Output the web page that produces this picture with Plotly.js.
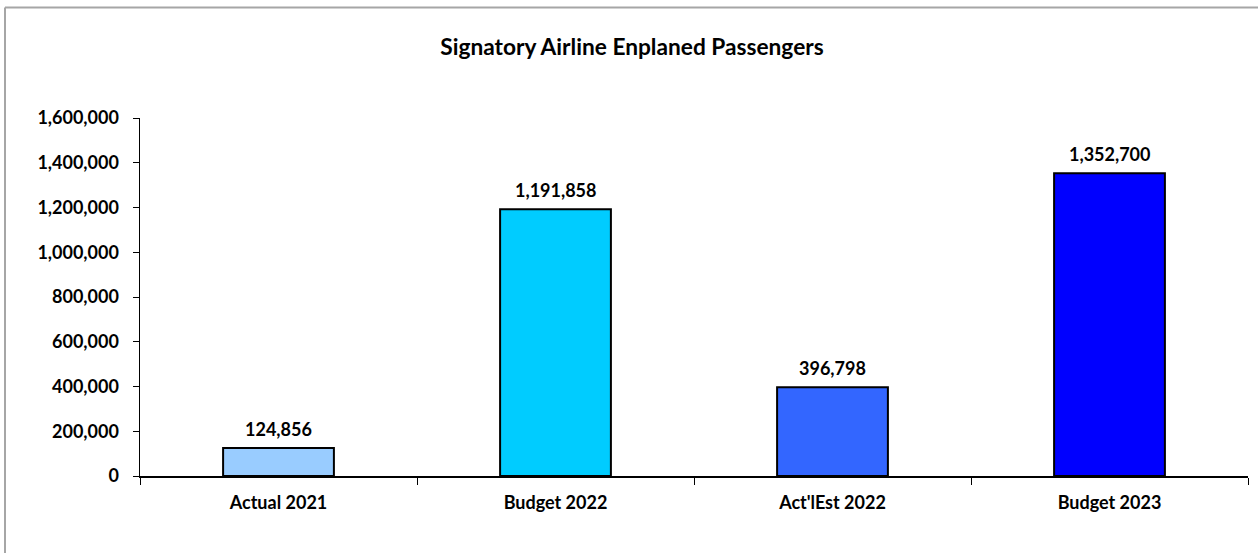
<!DOCTYPE html>
<html>
<head>
<meta charset="utf-8">
<script src="https://cdn.plot.ly/plotly-3.0.1.min.js"></script>
<style>
html,body{margin:0;padding:0;background:#fff;}
#chart{width:1258px;height:553px;}
</style>
</head>
<body>
<div id="chart"></div>
<script>
const categories = ["Actual 2021", "Budget 2022", "Act'lEst 2022", "Budget 2023"];
const passengers = [124856, 1191858, 396798, 1352700];
const barColors = ["#99CCFF", "#00CCFF", "#3366FF", "#0000FF"];
const yTicks = [0, 200000, 400000, 600000, 800000, 1000000, 1200000, 1400000, 1600000];

const FONT = "Lato, 'Open Sans', sans-serif";

const trace = {
  type: "bar",
  x: categories,
  y: passengers,
  width: 0.4,
  marker: {color: barColors, line: {color: "#000", width: 2}},
  hoverinfo: "none"
};

const W = 1258, H = 553, ml = 140, mr = 10, mt = 118, mb = 77;
const pw = W - ml - mr, ph = H - mt - mb;

const annotations = categories.map((c, i) => ({
  x: c, y: passengers[i], xref: "x", yref: "y",
  text: "<b>" + passengers[i].toLocaleString("en-US") + "</b>",
  showarrow: false, yanchor: "bottom", yshift: 6,
  font: {family: FONT, size: 18, color: "#000", weight: "bold"}
}));

const layout = {
  width: W, height: H,
  margin: {l: ml, r: mr, t: mt, b: mb, pad: 0},
  paper_bgcolor: "#fff", plot_bgcolor: "#fff",
  showlegend: false,
  font: {family: FONT, size: 18, color: "#000"},
  title: {text: "<b>Signatory Airline Enplaned Passengers</b>", x: 632/W, xref: "container", xanchor: "center",
          y: 1 - 47/H, yref: "container", yanchor: "middle",
          font: {family: FONT, size: 22.7, color: "#000"}},
  xaxis: {
    type: "category",
    showline: true, linecolor: "#000", linewidth: 1.5,
    ticks: "outside", tickson: "boundaries", ticklen: 7, tickcolor: "#000", tickwidth: 1,
    tickfont: {family: FONT, size: 18, color: "#000", weight: "bold"},
    showgrid: false, zeroline: false,
    ticklabelstandoff: 10
  },
  yaxis: {
    range: [0, 1600000],
    tickvals: yTicks,
    tickformat: ",d",
    showline: true, linecolor: "#000", linewidth: 1.5,
    ticks: "outside", ticklen: 6, tickcolor: "#000", tickwidth: 1,
    tickfont: {family: FONT, size: 18, color: "#000", weight: "bold"},
    showgrid: false, zeroline: false,
    ticklabelstandoff: 10
  },
  annotations: annotations,
  shapes: [
    {type: "line", xref: "paper", yref: "paper", x0: (5 - ml)/pw, x1: (W + 10 - ml)/pw, y0: 1 + (mt - 7.5)/ph, y1: 1 + (mt - 7.5)/ph,
     line: {color: "#a6a6a6", width: 2}},
    {type: "line", xref: "paper", yref: "paper", x0: (5 - ml)/pw, x1: (5 - ml)/pw, y0: 1 + (mt - 7.5)/ph, y1: -(mb + 10)/ph,
     line: {color: "#a6a6a6", width: 2}}
  ]
};

Plotly.newPlot("chart", [trace], layout, {displayModeBar: false, staticPlot: true});
</script>
</body>
</html>
